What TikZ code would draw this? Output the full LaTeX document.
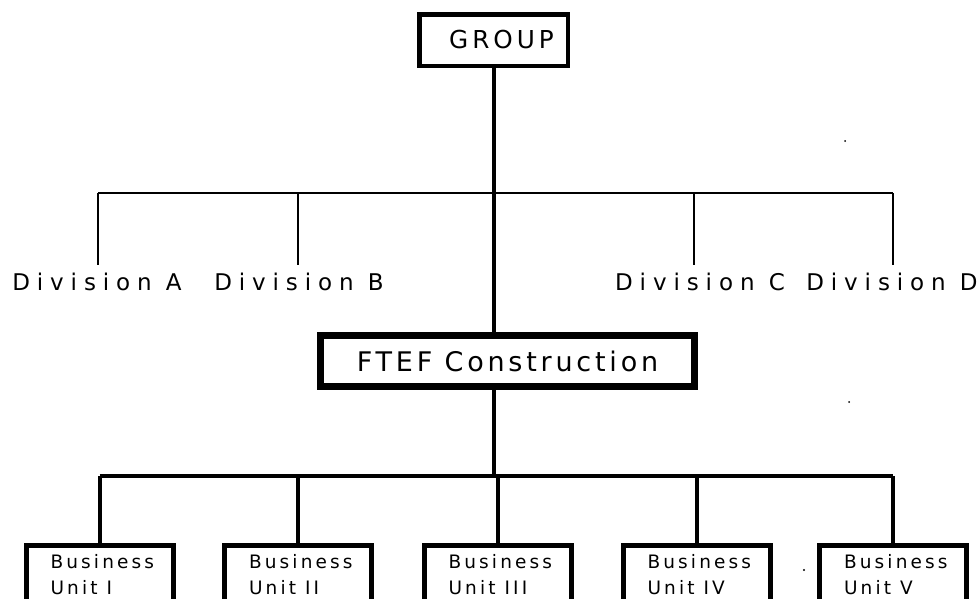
\documentclass[tikz,border=0pt]{standalone}
\usepackage{fontspec}
\setmainfont{DejaVu Sans}
\newfontfamily\bufont[LetterSpace=17]{DejaVu Sans}
\newcommand\gap{\hspace{9pt}}
\begin{document}
\begin{tikzpicture}[x=1pt,y=-1pt,
  grpbox/.style={draw, rectangle, line width=4.5pt, inner sep=0pt,
    minimum width=148.5pt, minimum height=51.5pt,
    font={\addfontfeatures{LetterSpace=16}\fontsize{24.7}{30}\selectfont}},
  ftefbox/.style={draw, rectangle, line width=7pt, inner sep=0pt,
    minimum width=374pt, minimum height=51pt,
    font={\addfontfeatures{LetterSpace=14}\fontsize{27}{32}\selectfont}},
  divlabel/.style={inner xsep=0pt, inner ysep=8pt, text height=17pt, text depth=5pt,
    font={\addfontfeatures{LetterSpace=30}\fontsize{23}{28}\selectfont}},
  bubox/.style={draw, rectangle, line width=5pt, anchor=north,
    inner xsep=24.5pt, inner ysep=8.5pt, text width=98pt, align=left,
    font={\bufont\fontsize{18.5}{26}\selectfont}},
  stem/.style={line width=4pt},
  thinline/.style={line width=2pt},
  busline/.style={line width=3.5pt},
  speck/.style={fill=black}
]
\useasboundingbox (0,0) rectangle (977,598);
\begin{scope}
\clip (0,0) rectangle (977,598);

% top
\node[grpbox] (group) at (493.5,40) {\hspace*{16pt}GROUP};
\node[ftefbox] (ftef) at (507.5,361) {FTEF Construction};

% divisions
\node[divlabel, anchor=base] (divA) at (97,290) {Division A};
\node[divlabel, anchor=base] (divB) at (299,290) {Division B};
\node[divlabel, anchor=base] (divC) at (700,290) {Division C};
\node[divlabel, anchor=base] (divD) at (892,290) {Division D};

\coordinate (dA) at (98,193);
\coordinate (dB) at (298,193);
\coordinate (dC) at (694,193);
\coordinate (dD) at (893,193);

\draw[thinline] (dA) -- (dD);
\draw[thinline] (dA) -- (dA |- divA.north);
\draw[thinline] (dB) -- (dB |- divB.north);
\draw[thinline] (dC) -- (dC |- divC.north);
\draw[thinline] (dD) -- (dD |- divD.north);

\draw[stem] (group.south) -- (group.south |- ftef.north);

% business units
\node[bubox] (bu1) at (99.5,543) {Business\\Unit\gap I};
\node[bubox] (bu2) at (298,543) {Business\\Unit\gap II};
\node[bubox] (bu3) at (497.5,543) {Business\\Unit\gap III};
\node[bubox] (bu4) at (696.5,543) {Business\\Unit\gap IV};
\node[bubox] (bu5) at (893,543) {Business\\Unit\gap V};

\coordinate (lj) at (494,476);
\draw[stem] (lj |- ftef.south) -- (lj);
\draw[busline] (bu1.north |- lj) -- (bu5.north |- lj);
\foreach \b in {bu1,bu2,bu3,bu4,bu5}
  \draw[stem] (\b.north |- lj) -- (\b.north);

% specks
\fill[speck] (845,141) circle (1pt);
\fill[speck] (849,402) circle (1pt);
\fill[speck] (804,570) circle (1.2pt);
\end{scope}
\end{tikzpicture}
\end{document}
